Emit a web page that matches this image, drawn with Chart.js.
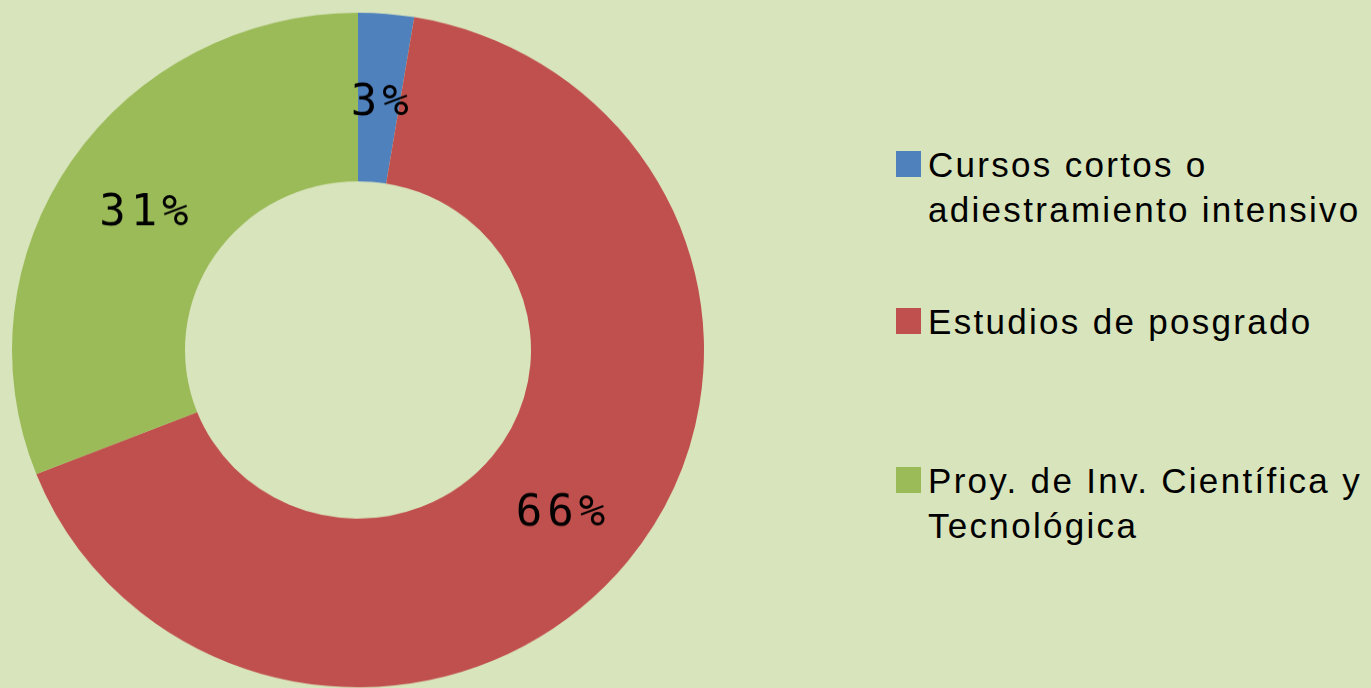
<!DOCTYPE html>
<html>
<head>
<meta charset="utf-8">
<script src="https://cdn.jsdelivr.net/npm/chart.js@4"></script>
<style>
  html, body { margin: 0; padding: 0; }
  body {
    width: 1371px; height: 688px; overflow: hidden;
    background: #D8E4BC; position: relative;
  }
  #donut { position: absolute; left: 0; top: 1px; }
  .entry { position: absolute; left: 896px; }
  .swatch { position: absolute; left: 0; width: 25px; height: 26px; }
  .text {
    position: absolute; left: 32px; white-space: nowrap;
    font-family: "Liberation Sans Narrow", "Liberation Sans", sans-serif;
    font-size: 35px; line-height: 45px; letter-spacing: 2.3px; color: #000;
  }
</style>
</head>
<body>
<canvas id="donut" width="716" height="716" style="width:716px;height:698px"></canvas>
<div id="legend"></div>
<script>
const categories = [
  ['Cursos cortos o', 'adiestramiento intensivo'],
  ['Estudios de posgrado'],
  ['Proy. de Inv. Científica y', 'Tecnológica']
];
const shares = [2.6, 66.4, 31.0];
const colors = ['#4F81BD', '#C0504D', '#9BBB59'];

// percent labels in the middle of each ring slice
const sliceLabels = {
  id: 'sliceLabels',
  afterDatasetsDraw(chart) {
    const ctx = chart.ctx;
    const data = chart.data.datasets[0].data;
    const total = data.reduce((a, b) => a + b, 0);
    ctx.save();
    ctx.font = '44px "DejaVu Sans Mono", monospace';
    ctx.letterSpacing = '5px';
    ctx.fillStyle = '#000';
    ctx.textAlign = 'center';
    ctx.textBaseline = 'middle';
    chart.getDatasetMeta(0).data.forEach((arc, i) => {
      const p = arc.getProps(['x', 'y', 'startAngle', 'endAngle', 'innerRadius', 'outerRadius'], true);
      const a = (p.startAngle + p.endAngle) / 2;
      const r = (p.innerRadius + p.outerRadius) / 2;
      const txt = Math.round(data[i] / total * 100) + '%';
      ctx.fillText(txt, p.x + Math.cos(a) * r + 3, p.y + Math.sin(a) * r + 6);
    });
    ctx.restore();
  }
};

new Chart(document.getElementById('donut'), {
  type: 'doughnut',
  data: {
    labels: categories,
    datasets: [{
      data: shares,
      backgroundColor: colors,
      borderWidth: 0
    }]
  },
  options: {
    responsive: false,
    animation: false,
    cutout: '50%',
    layout: { padding: 12 },
    plugins: {
      legend: { display: false },
      tooltip: { enabled: false }
    }
  },
  plugins: [sliceLabels]
});

// legend built from the same arrays
const legendTops = [142, 299, 458];
const legend = document.getElementById('legend');
categories.forEach((lines, i) => {
  const e = document.createElement('div');
  e.className = 'entry';
  e.style.top = legendTops[i] + 'px';
  const sw = document.createElement('div');
  sw.className = 'swatch';
  sw.style.background = colors[i];
  sw.style.top = '9px';
  const t = document.createElement('div');
  t.className = 'text';
  t.innerHTML = lines.join('<br>');
  e.appendChild(sw);
  e.appendChild(t);
  legend.appendChild(e);
});
</script>
</body>
</html>
